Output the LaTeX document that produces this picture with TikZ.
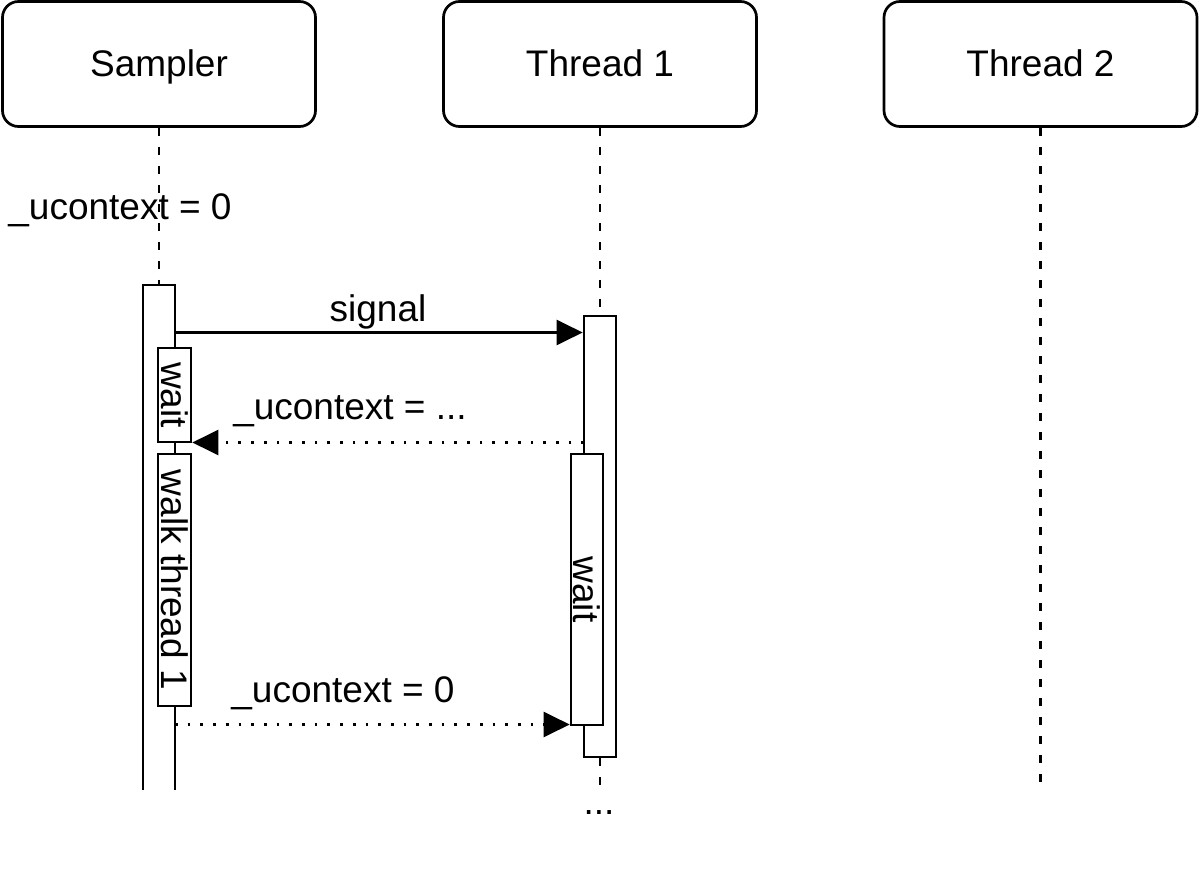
\documentclass[tikz,border=0pt]{standalone}
\usepackage{fontspec}
\setmainfont{Liberation Sans}
\usetikzlibrary{arrows.meta}
\begin{document}
\begin{tikzpicture}[x=1pt,y=-1pt,
  every node/.style={font=\fontsize{37}{40}\selectfont},
  head/.style={draw, line width=2.7pt, rounded corners=16pt, minimum width=313pt, minimum height=125pt, fill=white, text height=30pt, text depth=4pt},
  actbox/.style={draw, line width=2.7pt, fill=white, inner sep=0pt},
  life/.style={line width=2.7pt, dash pattern=on 8pt off 11pt},
  msg/.style={line width=2.7pt, -{Triangle[length=26pt,width=25pt]}},
  reply/.style={line width=2.7pt, dash pattern=on 2.7pt off 10pt, -{Triangle[length=26pt,width=25pt]}},
  lbl/.style={inner sep=0pt}]
\useasboundingbox (0,0) rectangle (1200,896);

% headers
\node[head] (sampler) at (159,64) {Sampler};
\node[head] (thread1) at (600,64) {Thread 1};
\node[head] (thread2) at (1040.5,64) {Thread 2};

% sampler activation (open at the bottom)
\coordinate (satl) at (143,285);
\coordinate (satr) at (175,285);
\coordinate (sabl) at (143,790);
\coordinate (sabr) at (175,790);
\draw[life] (sampler.south) -- (159,285);
\draw[line width=2.7pt] (sabl) -- (satl) -- (satr) -- (sabr);

% sampler sub-boxes
\node[actbox, minimum width=33pt, minimum height=94pt] (sw) at (174.5,395) {};
\node[rotate=-90, lbl] at (sw.center) {wait};
\node[actbox, minimum width=33pt, minimum height=252pt] (swt) at (174.5,580) {};
\node[rotate=-90, lbl] at (swt.center) {walk thread 1};

% thread 1 lifeline and activation
\node[actbox, minimum width=32pt, minimum height=441pt] (t1a) at (600,536.5) {};
\draw[life] (thread1.south) -- (t1a.north);
\coordinate (t1end) at (600,790);
\draw[life] (t1a.south) -- (t1end);
\node[actbox, minimum width=32pt, minimum height=271pt] (t1w) at (587,589.5) {};
\node[rotate=-90, lbl] at (t1w.center) {wait};

% thread 2 lifeline
\coordinate (t2end) at (1040.5,790);
\draw[life] (thread2.south) -- (t2end);

% messages
\coordinate (sig) at (175,332.5);
\draw[msg] (sig) -- (sig -| t1a.west);
\node[lbl] (siglbl) at (378,312) {signal};

\coordinate (ret) at (584,442.5);
\draw[reply] (ret) -- (ret -| sw.east);
\node[lbl] (retlbl) at (350,411) {\_ucontext = ...};

\coordinate (clr) at (175,724.5);
\draw[reply] (clr) -- (clr -| t1w.west);
\node[lbl] (clrlbl) at (343,693) {\_ucontext = 0};

% other labels
\node[lbl] (init) at (120,210) {\_ucontext = 0};
\node[lbl] (dots) at (599,813) {...};
\end{tikzpicture}
\end{document}
